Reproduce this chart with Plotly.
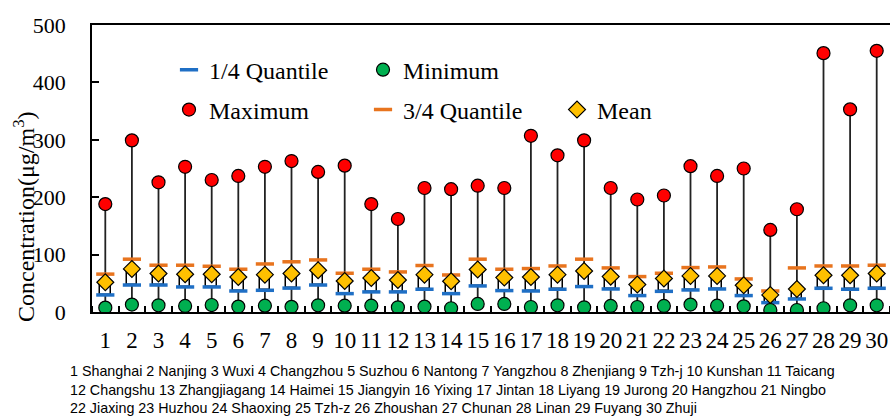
import plotly.graph_objects as go

# Site index 1..30 (names listed in the footnote)
sites = list(range(1, 31))
site_names = ["Shanghai", "Nanjing", "Wuxi", "Changzhou", "Suzhou", "Nantong", "Yangzhou",
              "Zhenjiang", "Tzh-j", "Kunshan", "Taicang", "Changshu", "Zhangjiagang", "Haimei",
              "Jiangyin", "Yixing", "Jintan", "Liyang", "Jurong", "Hangzhou", "Ningbo", "Jiaxing",
              "Huzhou", "Shaoxing", "Tzh-z", "Zhoushan", "Chunan", "Linan", "Fuyang", "Zhuji"]

# Concentration statistics (µg/m3)
v_min = [7.6, 12.9, 11.7, 10.5, 12.2, 9.4, 11.0, 9.0, 11.7, 11.0,
         11.0, 8.2, 9.4, 6.5, 14.0, 14.0, 8.7, 11.7, 8.2, 10.5,
         8.7, 10.5, 12.9, 11.0, 9.9, 3.5, 3.5, 6.5, 11.7, 11.7]
v_q1 = [29.7, 47.0, 47.0, 43.6, 43.6, 36.6, 37.8, 41.6, 47.0, 32.0,
        35.0, 35.0, 39.6, 32.0, 45.4, 37.3, 36.6, 39.6, 44.3, 40.1,
        28.6, 36.0, 38.4, 40.1, 28.6, 16.3, 22.7, 41.3, 39.6, 41.3]
v_mean = [51.8, 75.0, 67.0, 65.8, 65.8, 61.0, 65.0, 67.0, 72.7, 54.0,
          59.3, 55.8, 65.0, 53.5, 74.0, 60.0, 61.0, 65.0, 71.5, 61.7,
          47.8, 58.3, 62.8, 62.8, 46.6, 29.7, 40.1, 64.0, 64.0, 67.0]
v_q3 = [66.0, 92.0, 81.5, 81.5, 79.7, 74.5, 83.7, 87.5, 90.7, 67.5,
        74.5, 69.8, 81.0, 64.5, 92.0, 74.5, 75.7, 80.2, 92.0, 76.8,
        61.7, 67.5, 77.4, 78.5, 57.6, 36.6, 76.8, 80.2, 80.2, 81.5]
v_max = [188, 299, 226, 253, 230, 237, 253, 263, 244, 255,
         188, 162, 216, 214, 220, 216, 307, 273, 299, 216,
         196, 203, 254, 237, 250, 143, 179, 451, 353, 455]

tick_labels = [str(s) for s in sites]

SERIF = "Liberation Serif, Times New Roman, serif"

# Whiskers: min -> 1/4 quantile and mean -> max, gaps separate the sites
wx, wy = [], []
for s, lo, q1, mu, hi in zip(sites, v_min, v_q1, v_mean, v_max):
    wx += [s, s, None, s, s, None]
    wy += [lo, q1, None, mu, hi, None]

fig = go.Figure()

# White boxes spanning 1/4 quantile up to mean
fig.add_trace(go.Bar(
    x=sites, y=[m - q for m, q in zip(v_mean, v_q1)], base=v_q1, width=0.4,
    marker=dict(color="white", line=dict(color="black", width=1.5)),
    showlegend=False, hoverinfo="skip"))

fig.add_trace(go.Scatter(
    x=wx, y=wy, mode="lines", line=dict(color="#222222", width=1.8),
    showlegend=False, hoverinfo="skip"))

fig.add_trace(go.Scatter(
    x=sites, y=v_q1, mode="markers", name="1/4 Quantile", legend="legend",
    marker=dict(symbol="line-ew", size=13, color="#1F6FC5",
                line=dict(color="#1F6FC5", width=3.5))))
fig.add_trace(go.Scatter(
    x=sites, y=v_min, mode="markers", name="Minimum", legend="legend",
    marker=dict(symbol="circle", size=13, color="#00B050",
                line=dict(color="black", width=1.2))))
fig.add_trace(go.Scatter(
    x=sites, y=v_max, mode="markers", name="Maximum", legend="legend2",
    marker=dict(symbol="circle", size=13, color="#FF0000",
                line=dict(color="black", width=1.2))))
fig.add_trace(go.Scatter(
    x=sites, y=v_q3, mode="markers", name="3/4 Quantile", legend="legend2",
    marker=dict(symbol="line-ew", size=13, color="#E8741E",
                line=dict(color="#E8741E", width=3.5))))
fig.add_trace(go.Scatter(
    x=sites, y=v_mean, mode="markers", name="Mean", legend="legend2",
    marker=dict(symbol="diamond", size=13, color="#FFC000",
                line=dict(color="black", width=1.2))))

# Footnote: three lines of "index name" pairs
footnote_lines = []
parts = []
for i, name in enumerate(site_names, start=1):
    parts.append(f"{i} {name}")
    if i in (11, 21):
        footnote_lines.append(" ".join(parts))
        parts = []
footnote_lines.append(" ".join(parts))

legend_common = dict(orientation="h", font=dict(family=SERIF, size=24, color="black"),
                     bgcolor="rgba(0,0,0,0)", entrywidth=149, entrywidthmode="pixels",
                     itemwidth=30, xanchor="left", yanchor="middle", tracegroupgap=0)

fig.update_layout(
    width=890, height=418,
    margin=dict(l=92, r=0, t=25, b=106),
    paper_bgcolor="white", plot_bgcolor="white",
    bargap=0, showlegend=True,
    legend=dict(x=0.0965, y=0.843, **legend_common),
    legend2=dict(x=0.0965, y=0.704, **legend_common),
    xaxis=dict(
        range=[0.5, 30.5], tickmode="array", tickvals=sites, ticktext=tick_labels,
        ticks="", showgrid=False, zeroline=False,
        showline=True, linecolor="black", linewidth=1.5, mirror=True,
        tickfont=dict(family=SERIF, size=23, color="black"), ticklabelstandoff=7,
        minor=dict(tickmode="array", tickvals=[s - 0.5 for s in sites] + [30.5],
                   ticks="inside", ticklen=6, tickwidth=1.5, tickcolor="black",
                   showgrid=False),
    ),
    yaxis=dict(
        range=[0, 500], tickmode="array", tickvals=[0, 100, 200, 300, 400, 500],
        ticks="inside", ticklen=7, tickwidth=1.5, tickcolor="black",
        showgrid=False, zeroline=False, showline=True, linecolor="black", linewidth=1.5,
        tickfont=dict(family=SERIF, size=22, color="black"), ticklabelstandoff=20,
    ),
    annotations=[
        dict(text="Concentration(μg/m<sup>3</sup>)", textangle=-90,
             xref="paper", yref="paper", x=-0.0852, y=0.331,
             xanchor="center", yanchor="middle", showarrow=False,
             font=dict(family=SERIF, size=24, color="black")),
        dict(text="<br>".join(footnote_lines), align="left",
             xref="paper", yref="paper", x=-0.0301, y=-0.1707,
             xanchor="left", yanchor="top", showarrow=False,
             font=dict(family="Liberation Sans, Arial, sans-serif",
                       size=14.3, color="black")),
    ],
)

fig.write_html("out.html")
